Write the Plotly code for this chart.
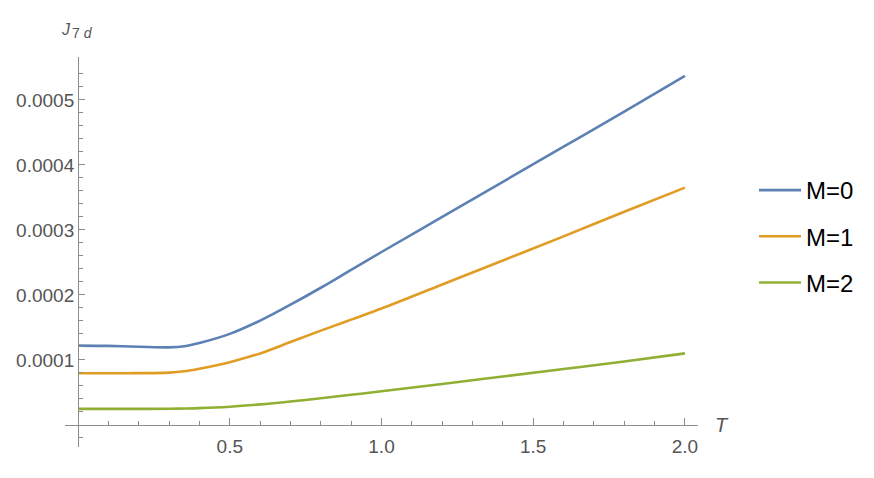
import numpy as np
import plotly.graph_objects as go

# ---- data ----
T = [0.0, 0.1, 0.2, 0.3, 0.35, 0.4, 0.5, 0.6, 0.7, 0.8, 0.9, 1.0, 1.2, 1.4, 1.6, 1.8, 2.0]
J_M0 = [1.22e-4, 1.215e-4, 1.203e-4, 1.193e-4, 1.21e-4, 1.26e-4, 1.40e-4, 1.605e-4, 1.85e-4,
        2.11e-4, 2.385e-4, 2.66e-4, 3.20e-4, 3.74e-4, 4.28e-4, 4.82e-4, 5.37e-4]
J_M1 = [7.95e-5, 7.95e-5, 7.96e-5, 8.05e-5, 8.25e-5, 8.65e-5, 9.65e-5, 1.10e-4, 1.275e-4,
        1.45e-4, 1.62e-4, 1.79e-4, 2.16e-4, 2.53e-4, 2.90e-4, 3.28e-4, 3.65e-4]
J_M2 = [2.46e-5, 2.46e-5, 2.46e-5, 2.48e-5, 2.52e-5, 2.58e-5, 2.80e-5, 3.15e-5, 3.60e-5,
        4.10e-5, 4.63e-5, 5.17e-5, 6.30e-5, 7.45e-5, 8.60e-5, 9.75e-5, 1.10e-4]
series_names = ["M=0", "M=1", "M=2"]
series_values = [J_M0, J_M1, J_M2]
colors = ["#5E81B5", "#E19C24", "#8FB032"]

x_tickvals = [0.5, 1.0, 1.5, 2.0]
x_ticktext = ["0.5", "1.0", "1.5", "2.0"]
y_tickvals = [0.0001, 0.0002, 0.0003, 0.0004, 0.0005]
y_ticktext = ["0.0001", "0.0002", "0.0003", "0.0004", "0.0005"]

# ---- layout constants ----
W, H = 874, 478
ML, MR, MT, MB = 65, 176, 57, 31
PW, PH = W - ML - MR, H - MT - MB
XR = [-0.043, 2.043]
YR = [-0.000034, 0.000566]
axis_col = "#8c8c8c"
lab_col = "#555555"
FONT = "Liberation Sans, Arial, sans-serif"


def px_x(p):
    return (p - ML) / PW


def px_y(p):
    return (H - MB - p) / PH


fig = go.Figure()
for i, (name, vals, c) in enumerate(zip(series_names, series_values, colors)):
    fig.add_trace(go.Scatter(x=T, y=vals, mode="lines", name=name,
                             line=dict(color=c, width=2.6, shape="spline", smoothing=1.0),
                             legendgroup=f"g{i}"))

x_minor = [v for v in np.round(np.arange(0.1, 2.01, 0.1), 3) if abs(v * 2 - round(v * 2)) > 1e-6]
y_minor = [v for v in np.round(np.arange(-0.00002, 0.00056, 0.00002), 7)
           if abs(v / 0.0001 - round(v / 0.0001)) > 1e-6]

fig.update_layout(
    width=W, height=H,
    margin=dict(l=ML, r=MR, t=MT, b=MB, autoexpand=False),
    plot_bgcolor="white", paper_bgcolor="white",
    font=dict(family=FONT, color=lab_col),
    showlegend=True,
    legend=dict(x=px_x(754), xanchor="left",
                y=px_y(168), yanchor="top",
                font=dict(size=24, color="black", family=FONT),
                traceorder="grouped", tracegroupgap=12, itemwidth=42,
                bgcolor="rgba(0,0,0,0)"),
    xaxis=dict(range=XR, showgrid=False, zeroline=False, automargin=False,
               showline=True, linecolor=axis_col, linewidth=1,
               anchor="free", position=(0 - YR[0]) / (YR[1] - YR[0]),
               tickmode="array", tickvals=x_tickvals, ticktext=x_ticktext,
               ticks="inside", ticklen=7, tickcolor=axis_col, tickwidth=1,
               tickfont=dict(size=19, color=lab_col, family=FONT),
               ticklabelstandoff=4,
               minor=dict(tickvals=x_minor, ticks="inside", ticklen=4,
                          tickcolor=axis_col, tickwidth=1, showgrid=False)),
    yaxis=dict(range=YR, showgrid=False, zeroline=False, automargin=False,
               showline=True, linecolor=axis_col, linewidth=1,
               anchor="free", position=(0 - XR[0]) / (XR[1] - XR[0]),
               tickmode="array", tickvals=y_tickvals, ticktext=y_ticktext,
               ticks="inside", ticklen=6, tickcolor=axis_col, tickwidth=1,
               tickfont=dict(size=19, color=lab_col, family=FONT),
               minor=dict(tickvals=y_minor, ticks="inside", ticklen=3.5,
                          tickcolor=axis_col, tickwidth=1, showgrid=False)),
)

fig.add_annotation(text="<i>J</i>", xref="paper", yref="paper",
                   x=px_x(59), y=px_y(29), xanchor="left", yanchor="middle",
                   showarrow=False, font=dict(size=16, color=lab_col, family=FONT))
fig.add_annotation(text="7 <i>d</i>", xref="paper", yref="paper",
                   x=px_x(70), y=px_y(32.5), xanchor="left", yanchor="middle",
                   showarrow=False, font=dict(size=14, color=lab_col, family=FONT))
fig.add_annotation(text="<i>T</i>", xref="paper", yref="paper",
                   x=px_x(722), y=px_y(425), xanchor="center", yanchor="middle",
                   showarrow=False, font=dict(size=20, color=lab_col, family=FONT))

fig.write_html("out.html", config={"displayModeBar": False},
               post_script="document.body.style.margin='0';document.body.style.padding='0';")
